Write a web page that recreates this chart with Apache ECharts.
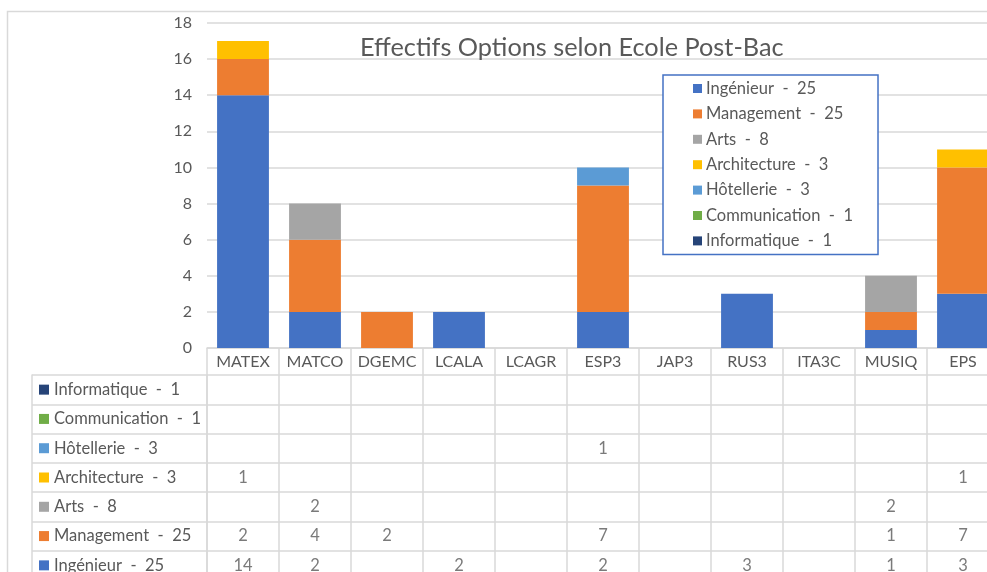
<!DOCTYPE html>
<html>
<head>
<meta charset="utf-8">
<script src="https://cdn.jsdelivr.net/npm/echarts@6/dist/echarts.min.js"></script>
<style>
  html, body { margin: 0; padding: 0; background: #fff; overflow: hidden; }
  #chart { width: 987px; height: 572px; }
</style>
</head>
<body>
<div id="chart"></div>
<script>
const categories = ['MATEX', 'MATCO', 'DGEMC', 'LCALA', 'LCAGR', 'ESP3', 'JAP3', 'RUS3', 'ITA3C', 'MUSIQ', 'EPS'];

const ingenieur     = [14, 2, 0, 2, 0, 2, 0, 3, 0, 1, 3];
const management    = [2, 4, 2, 0, 0, 7, 0, 0, 0, 1, 7];
const arts          = [0, 2, 0, 0, 0, 0, 0, 0, 0, 2, 0];
const architecture  = [1, 0, 0, 0, 0, 0, 0, 0, 0, 0, 1];
const hotellerie    = [0, 0, 0, 0, 0, 1, 0, 0, 0, 0, 0];
const communication = [0, 0, 0, 0, 0, 0, 0, 0, 0, 0, 0];
const informatique  = [0, 0, 0, 0, 0, 0, 0, 0, 0, 0, 0];

const yTicks = [0, 2, 4, 6, 8, 10, 12, 14, 16, 18];

const seriesDefs = [
  { name: 'Ingénieur  -  25', data: ingenieur, color: '#4472C4' },
  { name: 'Management  -  25', data: management, color: '#ED7D31' },
  { name: 'Arts  -  8', data: arts, color: '#A5A5A5' },
  { name: 'Architecture  -  3', data: architecture, color: '#FFC000' },
  { name: 'Hôtellerie  -  3', data: hotellerie, color: '#5B9BD5' },
  { name: 'Communication  -  1', data: communication, color: '#70AD47' },
  { name: 'Informatique  -  1', data: informatique, color: '#264478' }
];

// table rows go top -> bottom in reverse legend order
const tableRows = seriesDefs.slice().reverse();
const tableCells = [];
tableRows.forEach((s, r) => {
  s.data.forEach((v, i) => {
    if (v) tableCells.push([i, r, v]);
  });
});

const FONT = 'Lato';
const TXT = '#595959';
const LINE = '#d9d9d9';
const FS = 16.5;

const rich = {};
tableRows.forEach((s, i) => {
  rich['s' + i] = { width: 10, height: 10, backgroundColor: s.color };
  rich['t' + i] = { fontFamily: FONT, fontSize: FS, color: TXT, padding: [0, 0, 0, 5] };
});

const chart = echarts.init(document.getElementById('chart'));

chart.setOption({
  animation: false,
  backgroundColor: '#fff',
  textStyle: { fontFamily: FONT },
  graphic: [{
    type: 'rect',
    z: -10,
    shape: { x: 7.5, y: 11.5, width: 1100, height: 700 },
    style: { fill: 'none', stroke: LINE, lineWidth: 1.5 }
  }],
  title: {
    text: 'Effectifs Options selon Ecole Post-Bac',
    left: 355,
    top: 30,
    textStyle: { fontFamily: FONT, fontSize: 25.3, fontWeight: 'normal', color: TXT }
  },
  legend: {
    orient: 'vertical',
    left: 663,
    top: 75,
    data: seriesDefs.map((s) => s.name),
    icon: 'rect',
    itemWidth: 9,
    itemHeight: 9,
    itemGap: 8.4,
    padding: [5, 25, 5, 30],
    backgroundColor: '#fff',
    borderColor: '#4472C4',
    borderWidth: 1.5,
    textStyle: { fontFamily: FONT, fontSize: FS, color: TXT, padding: [0, 0, 0, -1] }
  },
  grid: [
    { left: 207, width: 792, top: 23, height: 325, outerBoundsMode: 'none' },
    { left: 207, width: 792, top: 375, height: 205, outerBoundsMode: 'none' }
  ],
  xAxis: [{
    type: 'category',
    gridIndex: 0,
    data: categories,
    axisLine: { lineStyle: { color: LINE, width: 1.5 } },
    axisTick: { show: true, length: 27, lineStyle: { color: LINE, width: 1.5 } },
    axisLabel: { interval: 0, color: TXT, fontSize: 16, fontFamily: FONT, margin: 6 }
  }, {
    type: 'category',
    gridIndex: 1,
    data: categories,
    position: 'top',
    axisLine: { lineStyle: { color: LINE, width: 1.5 } },
    axisTick: { show: false },
    axisLabel: { show: false },
    splitLine: { show: true, interval: 0, lineStyle: { color: LINE, width: 1.5 } }
  }],
  yAxis: [{
    type: 'value',
    gridIndex: 0,
    min: yTicks[0],
    max: yTicks[yTicks.length - 1],
    interval: 2,
    axisLine: { show: false },
    axisTick: { show: false },
    axisLabel: { color: TXT, fontSize: 16, fontFamily: FONT, margin: 15 },
    splitLine: { lineStyle: { color: LINE, width: 1.5 } }
  }, {
    type: 'category',
    gridIndex: 1,
    inverse: true,
    data: tableRows.map((s) => s.name),
    axisLine: { show: true, lineStyle: { color: LINE, width: 1.5 } },
    axisTick: { show: true, interval: 0, length: 175, lineStyle: { color: LINE, width: 1.5 } },
    axisLabel: {
      interval: 0,
      align: 'left',
      margin: 168,
      formatter: (v, i) => `{s${i}|}{t${i}|${v}}`,
      rich: rich
    },
    splitLine: { show: true, interval: 0, lineStyle: { color: LINE, width: 1.5 } }
  }, {
    type: 'value',
    gridIndex: 1,
    position: 'left',
    offset: 175,
    axisLine: { show: true, lineStyle: { color: LINE, width: 1.5 } },
    axisTick: { show: false },
    axisLabel: { show: false },
    splitLine: { show: false }
  }],
  series: seriesDefs.map((s) => ({
    name: s.name,
    type: 'bar',
    stack: 'total',
    xAxisIndex: 0,
    yAxisIndex: 0,
    barCategoryGap: '28%',
    itemStyle: { color: s.color },
    data: s.data
  })).concat([{
    name: 'table',
    type: 'scatter',
    xAxisIndex: 1,
    yAxisIndex: 1,
    symbolSize: 0,
    silent: true,
    label: {
      show: true,
      position: 'inside',
      formatter: (p) => p.value[2],
      color: TXT,
      fontSize: FS,
      fontFamily: FONT
    },
    data: tableCells
  }])
});
</script>
</body>
</html>
